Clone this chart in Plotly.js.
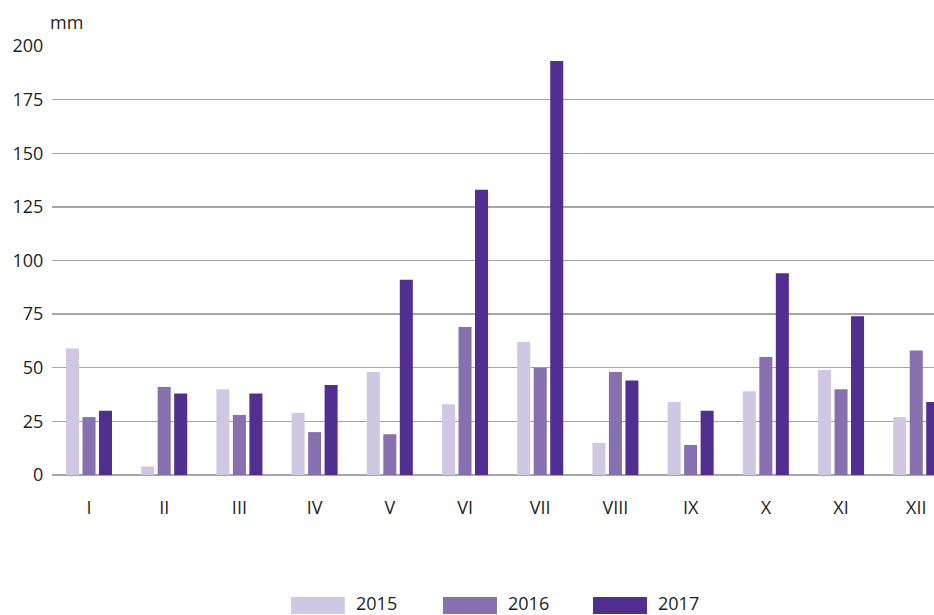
<!DOCTYPE html>
<html><head><meta charset="utf-8">
<script src="https://cdn.plot.ly/plotly-3.0.1.min.js"></script>
<style>html,body{margin:0;padding:0;background:#fff}#chart{width:934px;height:615px}</style>
</head><body><div id="chart"></div>
<script>
const months = ["I","II","III","IV","V","VI","VII","VIII","IX","X","XI","XII"];
const seriesNames = ["2015","2016","2017"];
const v2015 = [59, 4, 40, 29, 48, 33, 62, 15, 34, 39, 49, 27];
const v2016 = [27, 41, 28, 20, 19, 69, 50, 48, 14, 55, 40, 58];
const v2017 = [30, 38, 38, 42, 91, 133, 193, 44, 30, 94, 74, 34];
const yTicks = [0, 25, 50, 75, 100, 125, 150, 175, 200];
const colors = ["#d0c8e2", "#8670b0", "#512e91"];
const allVals = [v2015, v2016, v2017];

const font = "Open Sans, DejaVu Sans, sans-serif";
const txtColor = "#231f20";

const traces = allVals.map((vals, i) => ({
  type: "bar", name: seriesNames[i], x: months, y: vals,
  marker: {color: colors[i]}, hoverinfo: "skip", showlegend: false
}));

// custom legend (wide swatches)
const legX = [[0.271, 0.332], [0.4433, 0.5045], [0.6134, 0.6746]];
const shapes = legX.map((p, i) => ({
  type: "rect", xref: "paper", yref: "paper",
  x0: p[0], x1: p[1], y0: -0.324, y1: -0.2844,
  fillcolor: colors[i], line: {width: 0}
}));
const annotations = seriesNames.map((n, i) => ({
  xref: "paper", yref: "paper", x: legX[i][1] + 0.0105, y: -0.299,
  xanchor: "left", yanchor: "middle", text: n, showarrow: false,
  font: {family: font, size: 18, color: txtColor}
}));
annotations.push({
  xref: "paper", yref: "paper", x: -0.004, y: 1.057, xanchor: "left", yanchor: "middle",
  text: "mm", showarrow: false, font: {family: font, size: 18, color: txtColor}
});

const layout = {
  width: 934, height: 615,
  margin: {l: 52, r: 0, t: 46, b: 140},
  paper_bgcolor: "#fff", plot_bgcolor: "#fff",
  barmode: "group", bargap: 0.342, bargroupgap: 0.21,
  showlegend: false,
  font: {family: font, size: 18, color: txtColor},
  xaxis: {
    type: "category", range: [-0.492, 11.236], showgrid: false, zeroline: false,
    showline: false, ticks: "outside", ticklen: 16, tickcolor: "rgba(0,0,0,0)",
    tickfont: {family: font, size: 18, color: txtColor}, fixedrange: true
  },
  yaxis: {
    range: [0, 200], tickvals: yTicks, ticktext: yTicks.map(String),
    showgrid: true, gridcolor: "#a6a6a6", gridwidth: 1.3,
    zeroline: true, zerolinecolor: "#a6a6a6", zerolinewidth: 1.3,
    showline: false, ticks: "outside", ticklen: 4, tickcolor: "rgba(0,0,0,0)",
    tickfont: {family: font, size: 18, color: txtColor}, fixedrange: true
  },
  shapes: shapes, annotations: annotations
};
Plotly.newPlot("chart", traces, layout, {displayModeBar: false, staticPlot: true});
</script></body></html>
